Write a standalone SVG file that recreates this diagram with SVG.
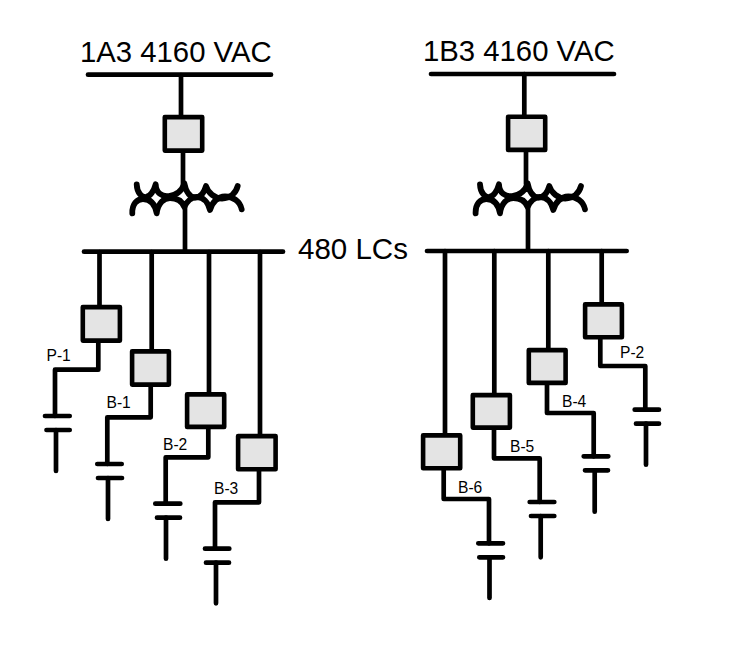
<svg xmlns="http://www.w3.org/2000/svg" width="741" height="650" viewBox="0 0 741 650">
<style>
.w{fill:none;stroke:#000;stroke-width:4.7;stroke-linecap:round;stroke-linejoin:round}
.x{fill:none;stroke:#000;stroke-width:5.8;stroke-linecap:round;stroke-linejoin:round}
.b{fill:#e4e4e4;stroke:#000;stroke-width:4.6;stroke-linejoin:round}
.t{font-family:"Liberation Sans",Arial,sans-serif;fill:#000}
.h{font-size:29.3px}
.l{font-size:15.6px}
</style>
<rect width="741" height="650" fill="#fff"/>
<defs>
<g id="xf">
<path class="x" d="M136.700 184.300C137 193 142 197.500 146 197C150 196.500 154 191 155.700 184.300C156 193 162 197 169 196C176 195 182 191 184.300 183.300C186 192 190 197 195 197.500C200 197.500 204 193 206 186C208 193 215 198.500 222 198.500C230 198.500 236 193 237.700 186"/>
<path class="x" d="M132.300 213.300C132 204 137 199 143 199C150 199 155 204 156.700 213.300C158 203 164 198 170 198C177 198 182 201 184.300 207C187 201 192 197 197 197C203 197 208 202 210 210C212 202 218 196.500 225 196.500C233 196.500 240 201 241.700 209.300"/>
</g>
</defs>
<g id="connectors">
<path class="w" d="M181 75V116M183 153V184M185 207V251"/>
<path class="w" d="M99.500 252V306M98.300 343V369.700H55V416M56 430V471"/>
<path class="w" d="M151.700 252V350M150.700 387V417.300H107.300V464M108 478V519"/>
<path class="w" d="M209 252V392M208.300 429V457.300H165.700V503.700M166 517.700V558.700"/>
<path class="w" d="M260 252V434M259 471V502.300H215V548.700M216 562.700V603.300"/>
<path class="w" d="M524.300 74V115M526 152V184M528 207V250"/>
<path class="w" d="M445 251V433M443.700 470V499H489V543.300M489.500 557.300V598"/>
<path class="w" d="M494.300 251V393M494 430V458.300H539.700V502M540.700 516V557.300"/>
<path class="w" d="M548.300 251V348M547 385V413H593.700V456.300M594.700 470.300V511.700"/>
<path class="w" d="M601.700 251V302M600.300 339V366H645.300V409.700M646 423.700V464.700"/>
</g>
<g id="bus-1A3"><path class="w" d="M88 74.700H271"/><text class="t h" x="80" y="62">1A3 4160 VAC</text></g>
<g id="bus-1B3"><path class="w" d="M431 74H614"/><text class="t h" x="423" y="61">1B3 4160 VAC</text></g>
<g id="bus-480-left"><path class="w" d="M84 251.700H283"/></g>
<g id="bus-480-right"><path class="w" d="M427 251H626.700"/></g>
<g id="label-480"><text class="t" style="font-size:29.500px" x="298" y="259">480 LCs</text></g>
<g id="breaker-1A3"><rect class="b" x="164.800" y="117.100" width="37.400" height="33.500"/></g>
<g id="breaker-1B3"><rect class="b" x="508.100" y="116.800" width="37.100" height="33.100"/></g>
<g id="transformer-1A3"><use href="#xf"/></g>
<g id="transformer-1B3"><use href="#xf" x="343.300"/></g>
<g id="feeder-P-1"><rect class="b" x="82.800" y="307.100" width="37.100" height="33.500"/><path class="w" d="M45 416H69.700M46.500 430H69.700"/><text class="t l" x="46.500" y="360.500">P-1</text></g>
<g id="feeder-B-1"><rect class="b" x="132.100" y="351.400" width="36.800" height="33.200"/><path class="w" d="M97.300 464H121.700M98 478H122"/><text class="t l" x="106.500" y="408">B-1</text></g>
<g id="feeder-B-2"><rect class="b" x="187.100" y="394.400" width="37.100" height="32.500"/><path class="w" d="M155.300 503.700H180.300M157 517.700H180"/><text class="t l" x="163" y="449.500">B-2</text></g>
<g id="feeder-B-3"><rect class="b" x="238.100" y="436.100" width="37.500" height="33.100"/><path class="w" d="M205 548.700H229.300M206 562.700H229"/><text class="t l" x="214" y="494">B-3</text></g>
<g id="feeder-B-6"><rect class="b" x="423.100" y="435.400" width="37.100" height="32.800"/><path class="w" d="M478.300 543.300H503M479.300 557.300H503"/><text class="t l" x="458" y="492.500">B-6</text></g>
<g id="feeder-B-5"><rect class="b" x="472.800" y="395.100" width="37.100" height="32.500"/><path class="w" d="M529.700 502H554.300M531 516H554.300"/><text class="t l" x="510" y="452">B-5</text></g>
<g id="feeder-B-4"><rect class="b" x="528.800" y="350.100" width="36.800" height="32.800"/><path class="w" d="M583.700 456.300H608.300M585 470.300H608"/><text class="t l" x="562" y="407">B-4</text></g>
<g id="feeder-P-2"><rect class="b" x="585.100" y="304.400" width="36.800" height="32.800"/><path class="w" d="M634.700 409.700H659M636 423.700H659"/><text class="t l" x="620" y="358">P-2</text></g>
</svg>
